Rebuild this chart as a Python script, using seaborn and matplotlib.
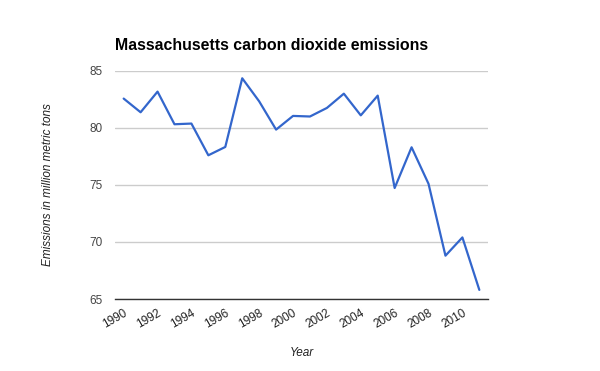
import matplotlib
matplotlib.use("Agg")
import matplotlib.pyplot as plt
import seaborn as sns
import pandas as pd

years = list(range(1990, 2012))
emissions = [82.57, 81.37, 83.18, 80.32, 80.38, 77.6, 78.33, 84.35, 82.33, 79.85,
             81.05, 81.0, 81.75, 83.0, 81.1, 82.83, 74.73, 78.3, 75.1, 68.8, 70.4, 65.8]
ytick_vals = [65, 70, 75, 80, 85]
xtick_vals = list(range(1990, 2011, 2))

df = pd.DataFrame({"Year": years, "Emissions": emissions})

sns.set_theme(style="white")
plt.rcParams['font.family'] = ['Liberation Sans', 'DejaVu Sans']

fig = plt.figure(figsize=(6, 3.71), dpi=100)
ax = fig.add_axes([0.192, 0.194, 0.621, 0.615])
sns.lineplot(data=df, x="Year", y="Emissions", ax=ax, color="#3366cc", linewidth=1.6)

ax.set_xlim(1989.5, 2011.5)
ax.set_ylim(65, 85)
ax.set_yticks(ytick_vals)
ax.set_yticklabels([str(v) for v in ytick_vals], fontsize=8.5, color="#444444")
ax.set_xticks(xtick_vals)
ax.set_xticklabels([str(v) for v in xtick_vals], rotation=30, ha="right",
                   rotation_mode="anchor", fontsize=8.5, color="#222222")
ax.tick_params(axis="both", length=0)
ax.tick_params(axis="y", pad=9)
ax.tick_params(axis="x", pad=6)
ax.grid(axis="y", color="#cccccc", linewidth=1)
ax.set_axisbelow(True)
for s in ["top", "right", "left"]:
    ax.spines[s].set_visible(False)
ax.spines["bottom"].set_color("#333333")
ax.spines["bottom"].set_linewidth(1)

ax.set_xlabel("Year", fontsize=8.5, style="italic", color="#222222")
ax.xaxis.set_label_coords(0.502, -0.21)
ax.set_ylabel("Emissions in million metric tons", fontsize=8.5, style="italic",
              color="#222222")
ax.yaxis.set_label_coords(-0.164, 0.5)
fig.text(0.192, 0.865, "Massachusetts carbon dioxide emissions", fontsize=11.4,
         fontweight="bold", color="#000000", ha="left", va="baseline")

fig.savefig("out.png", dpi=100, facecolor="white")
